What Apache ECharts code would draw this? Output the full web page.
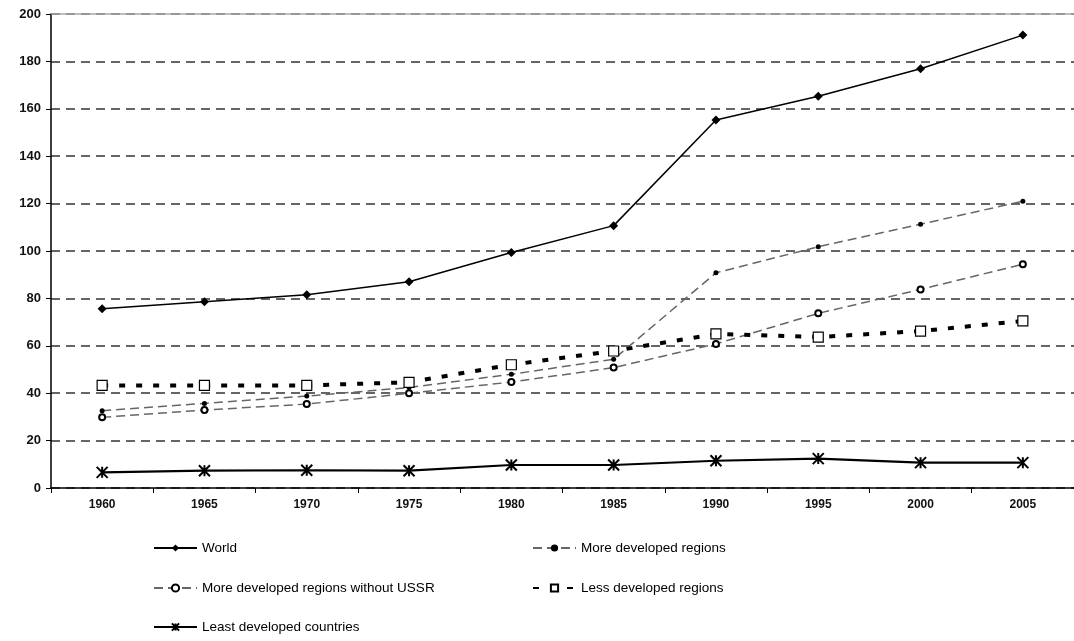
<!DOCTYPE html>
<html>
<head>
<meta charset="utf-8">
<style>
  html, body { margin: 0; padding: 0; background: #fff; }
  #main { width: 1074px; height: 641px; }
</style>
<script src="https://cdn.jsdelivr.net/npm/echarts@6/dist/echarts.min.js"></script>
</head>
<body>
<div id="main"></div>
<script>
// data
var years = ["1960", "1965", "1970", "1975", "1980", "1985", "1990", "1995", "2000", "2005"];
var world = [75.6, 78.6, 81.5, 87, 99.4, 110.7, 155.3, 165.3, 176.9, 191.1];
var moreDeveloped = [32.6, 35.7, 38.8, 42.4, 48, 54.3, 90.8, 101.8, 111.3, 121];
var moreDevNoUssr = [29.8, 32.9, 35.4, 40, 44.7, 50.8, 60.8, 73.7, 83.8, 94.4];
var lessDeveloped = [43.3, 43.3, 43.3, 44.6, 52, 57.8, 65, 63.7, 66.2, 70.5];
var leastDeveloped = [6.6, 7.3, 7.5, 7.3, 9.7, 9.7, 11.5, 12.4, 10.7, 10.7];
var yTicks = { min: 0, max: 200, interval: 20 };

var asterisk = "path://M0,0L10,10M10,0L0,10M5,0L5,10";
var font = "Liberation Sans, Arial, sans-serif";

var myChart = echarts.init(document.getElementById("main"));

function legendAt(name, left, top) {
  return {
    data: [name],
    left: left,
    top: top,
    padding: 0,
    itemWidth: 43,
    itemHeight: 9,
    textStyle: { color: "#000", fontSize: 13.5, fontFamily: font }
  };
}

myChart.setOption({
  animation: false,
  backgroundColor: "#fff",
  grid: { left: 51, top: 14, width: 1030, height: 474 },
  legend: [
    legendAt("World", 153, 541),
    legendAt("More developed regions", 532, 541),
    legendAt("More developed regions without USSR", 153, 581),
    legendAt("Less developed regions", 532, 581),
    legendAt("Least developed countries", 153, 620)
  ],
  xAxis: [
    {
      type: "category",
      data: years,
      boundaryGap: true,
      axisLine: { lineStyle: { color: "#000", width: 1.5 } },
      axisTick: { show: true, length: 5, lineStyle: { color: "#000" } },
      axisLabel: { color: "#111", fontSize: 12, fontWeight: "bold", fontFamily: font, margin: 11 },
      splitLine: { show: false }
    },
    {
      // grey frame line at the top of the plot
      type: "category",
      data: years,
      position: "top",
      axisLine: { lineStyle: { color: "#a8a8a8", width: 1.5 } },
      axisTick: { show: false },
      axisLabel: { show: false }
    }
  ],
  yAxis: {
    type: "value",
    min: yTicks.min,
    max: yTicks.max,
    interval: yTicks.interval,
    axisLine: { show: true, lineStyle: { color: "#000", width: 1.5 } },
    axisTick: { show: true, length: 5, lineStyle: { color: "#000" } },
    axisLabel: { color: "#111", fontSize: 13, fontWeight: "bold", fontFamily: font, margin: 10 },
    splitLine: { lineStyle: { color: "#333", width: 1.5, type: [9, 6] } }
  },
  series: [
    {
      name: "World",
      type: "line",
      data: world,
      symbol: "diamond",
      symbolSize: 9,
      itemStyle: { color: "#000" },
      lineStyle: { color: "#000", width: 1.5 }
    },
    {
      name: "More developed regions",
      type: "line",
      data: moreDeveloped,
      symbol: "circle",
      symbolSize: 5,
      itemStyle: { color: "#000" },
      lineStyle: { color: "#666", width: 1.5, type: [9, 5] }
    },
    {
      name: "More developed regions without USSR",
      type: "line",
      data: moreDevNoUssr,
      symbol: "emptyCircle",
      symbolSize: 6,
      itemStyle: { color: "#000", borderWidth: 1.3 },
      lineStyle: { color: "#666", width: 1.5, type: [9, 5] }
    },
    {
      name: "Less developed regions",
      type: "line",
      data: lessDeveloped,
      symbol: "rect",
      symbolSize: 10,
      itemStyle: { color: "#fff", borderColor: "#000", borderWidth: 1.2 },
      lineStyle: { color: "#000", width: 4, type: [6, 11] },
      z: 3
    },
    {
      name: "Least developed countries",
      type: "line",
      data: leastDeveloped,
      symbol: asterisk,
      symbolSize: 11,
      itemStyle: { color: "#000", borderColor: "#000", borderWidth: 2 },
      lineStyle: { color: "#000", width: 2.2 }
    }
  ]
});
</script>
</body>
</html>
